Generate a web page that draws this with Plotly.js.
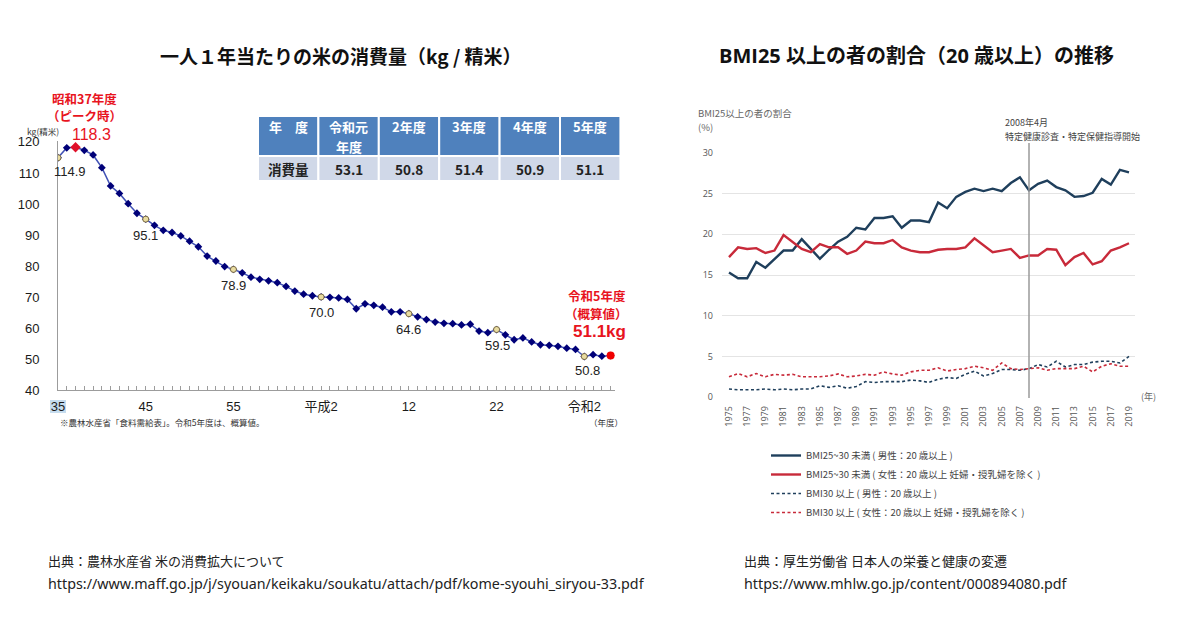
<!DOCTYPE html>
<html>
<head>
<meta charset="utf-8">
<script src="https://cdn.plot.ly/plotly-3.0.1.min.js"></script>
<style>html,body{margin:0;padding:0;background:#fff;}#chart{width:1200px;height:634px;}</style>
</head>
<body>
<div id="chart"></div>
<script>
// ---------- Left chart: rice consumption per person (kg) ----------
const riceYears = [1960,1961,1962,1963,1964,1965,1966,1967,1968,1969,
  1970,1971,1972,1973,1974,1975,1976,1977,1978,1979,
  1980,1981,1982,1983,1984,1985,1986,1987,1988,1989,
  1990,1991,1992,1993,1994,1995,1996,1997,1998,1999,
  2000,2001,2002,2003,2004,2005,2006,2007,2008,2009,
  2010,2011,2012,2013,2014,2015,2016,2017,2018,2019,
  2020,2021,2022,2023];
const riceValues = [114.9,118.1,118.3,117.3,115.8,111.7,105.8,103.4,100.1,97.0,
  95.1,93.1,91.5,90.8,89.7,88.0,86.2,83.2,81.6,79.8,
  78.9,77.8,76.4,75.7,75.2,74.6,73.4,71.9,70.9,70.4,
  70.0,69.9,69.7,69.2,66.2,67.8,67.3,66.7,65.2,65.2,
  64.6,63.6,62.7,61.9,61.5,61.4,61.0,61.2,59.0,58.5,
  59.5,57.8,56.2,56.8,55.5,54.6,54.4,54.1,53.5,53.1,
  50.8,51.4,50.9,51.1];
const labeledYears = [1960,1970,1980,1990,2000,2010,2020];
const peakYear = 1962;
const latestYear = 2023;
const riceTickVals = [1960,1970,1980,1990,2000,2010,2020];
const riceTickText = ['35','45','55','平成2','12','22','令和2'];

// table
const tableHeader = [['年　度'],['令和元','年度'],['2年度'],['3年度'],['4年度'],['5年度']];
const tableRowLabel = '消費量';
const tableValues = ['53.1','50.8','51.4','50.9','51.1'];

// ---------- Right chart: BMI25+ share (%) ----------
const bmiYears = [1975,1976,1977,1978,1979,1980,1981,1982,1983,1984,
  1985,1986,1987,1988,1989,1990,1991,1992,1993,1994,
  1995,1996,1997,1998,1999,2000,2001,2002,2003,2004,
  2005,2006,2007,2008,2009,2010,2011,2012,2013,2014,
  2015,2016,2017,2018,2019];
const men25to30 = [15.3,14.6,14.6,16.6,15.9,16.9,18.0,18.0,19.4,18.2,
  17.0,18.1,19.1,19.7,20.8,20.6,22.0,22.0,22.2,20.8,
  21.7,21.7,21.5,23.9,23.2,24.6,25.2,25.6,25.3,25.6,
  25.3,26.3,27.0,25.4,26.2,26.6,25.8,25.4,24.6,24.7,
  25.1,26.8,26.1,27.9,27.6];
const women25to30 = [17.2,18.4,18.2,18.3,17.7,18.0,19.9,19.1,18.2,17.8,
  18.8,18.4,18.4,17.6,18.0,19.1,18.9,18.9,19.3,18.4,
  18.0,17.8,17.8,18.1,18.2,18.2,18.4,19.5,18.7,17.8,
  18.0,18.2,17.1,17.4,17.4,18.2,18.1,16.2,17.2,17.7,
  16.3,16.7,18.0,18.4,18.9];
const men30plus = [1.0,0.9,0.9,0.9,1.0,0.9,1.0,0.9,1.0,1.0,
  1.4,1.2,1.4,1.1,1.3,1.9,1.8,1.9,1.9,1.9,
  2.1,2.0,1.8,2.2,2.4,2.3,2.8,3.2,2.6,2.9,
  3.4,3.4,3.3,3.5,4.0,3.7,4.4,3.7,4.0,4.0,
  4.3,4.4,4.4,4.2,5.0];
const women30plus = [2.5,2.9,2.5,2.9,2.5,2.8,2.7,2.8,2.5,2.5,
  2.5,2.6,2.85,2.5,2.6,2.8,2.7,3.1,2.85,2.7,
  3.1,3.3,3.3,3.6,3.2,3.4,3.5,3.8,3.6,3.3,
  4.2,3.5,3.4,3.5,3.6,3.3,3.5,3.5,3.5,3.8,
  3.1,3.8,4.1,3.8,3.8];
const bmiSeriesNames = [
  'BMI25~30 未満 ( 男性：20 歳以上 )',
  'BMI25~30 未満 ( 女性：20 歳以上 妊婦・授乳婦を除く )',
  'BMI30 以上 ( 男性：20 歳以上 )',
  'BMI30 以上 ( 女性：20 歳以上 妊婦・授乳婦を除く )'
];
const markerYear = 2008;

// ---------- build ----------
const W = 1200, H = 634;
const px = v => v / W;
const py = v => 1 - v / H;
const JP = '"Noto Sans CJK JP", "Noto Sans", sans-serif';
const LAT = '"Liberation Sans", Arial, "Noto Sans CJK JP", sans-serif';

const valOf = y => riceValues[riceYears.indexOf(y)];

const traces = [];
traces.push({
  type: 'scatter', mode: 'lines+markers', x: riceYears, y: riceValues,
  xaxis: 'x', yaxis: 'y', showlegend: false, hoverinfo: 'x+y',
  line: {color: '#4051b5', width: 1.5},
  marker: {symbol: 'diamond', size: 6, color: '#000078'}
});
traces.push({
  type: 'scatter', mode: 'markers', x: labeledYears, y: labeledYears.map(valOf),
  xaxis: 'x', yaxis: 'y', showlegend: false,
  marker: {symbol: 'circle', size: 6, color: '#e9dca0', line: {color: '#7d6e45', width: 1}}
});
traces.push({
  type: 'scatter', mode: 'markers', x: [peakYear], y: [valOf(peakYear)],
  xaxis: 'x', yaxis: 'y', showlegend: false,
  marker: {symbol: 'diamond', size: 8, color: '#e0102a'}
});
traces.push({
  type: 'scatter', mode: 'markers', x: [latestYear], y: [valOf(latestYear)],
  xaxis: 'x', yaxis: 'y', showlegend: false,
  marker: {symbol: 'circle', size: 8, color: '#f00000'}
});

// right chart
const bmiColors = ['#1f3f5c', '#c82a3a', '#1f3f5c', '#c82a3a'];
const bmiData = [men25to30, women25to30, men30plus, women30plus];
bmiData.forEach((arr, i) => {
  traces.push({
    type: 'scatter', mode: 'lines', x: bmiYears, y: arr,
    xaxis: 'x2', yaxis: 'y2', name: bmiSeriesNames[i],
    line: {color: bmiColors[i], width: i < 2 ? 2.4 : 1.6, dash: i < 2 ? 'solid' : '3px,2.5px'}
  });
});

const annotations = [];
const shapes = [];
const note = (x, y, text, font, xanchor, extra) => annotations.push(Object.assign({
  xref: 'paper', yref: 'paper', x: px(x), y: py(y), text: text, showarrow: false,
  font: font, xanchor: xanchor || 'center', yanchor: 'middle'}, extra || {}));

// titles
note(341, 55, '<b>一人１年当たりの米の消費量（kg / 精米）</b>', {family: JP, size: 19, color: '#111'});
note(916, 55, '<b>BMI25 以上の者の割合（20 歳以上）の推移</b>', {family: '"Open Sans", "Noto Sans CJK JP", sans-serif', size: 20, color: '#111'});

// ----- table drawn with shapes + text -----
const tblLeft = 258, tblColW = 60.4, tblTop = 116, tblHeadH = 40, tblRowH = 25;
tableHeader.forEach((lines, i) => {
  const x0 = tblLeft + i * tblColW, x1 = x0 + tblColW, xc = (x0 + x1) / 2;
  shapes.push({type: 'rect', xref: 'paper', yref: 'paper', x0: px(x0), x1: px(x1), y0: py(tblTop + tblHeadH), y1: py(tblTop),
    fillcolor: '#4f81bd', line: {color: '#ffffff', width: 2}, layer: 'below'});
  shapes.push({type: 'rect', xref: 'paper', yref: 'paper', x0: px(x0), x1: px(x1), y0: py(tblTop + tblHeadH + tblRowH), y1: py(tblTop + tblHeadH),
    fillcolor: '#d0d8e8', line: {color: '#ffffff', width: 2}, layer: 'below'});
  lines.forEach((t, k) => note(xc, tblTop + 11 + k * 19, '<b>' + t + '</b>', {family: JP, size: 13, color: '#ffffff'}));
  const cellText = i === 0 ? tableRowLabel : tableValues[i - 1];
  note(xc, tblTop + tblHeadH + tblRowH / 2 + 0.5, '<b>' + cellText + '</b>', {family: JP, size: 13.5, color: '#222222'});
});

// data labels
const labelOffsets = {1960: [12, -14], 1970: [0, -16], 1980: [0, -16], 1990: [0, -16], 2000: [0, -16], 2010: [1, -16], 2020: [3, -14]};
labeledYears.forEach(y => {
  annotations.push({xref: 'x', yref: 'y', x: y, y: valOf(y), text: valOf(y).toFixed(1), showarrow: false,
    xshift: labelOffsets[y][0], yshift: labelOffsets[y][1],
    font: {family: LAT, size: 13, color: '#222'}, xanchor: 'center', yanchor: 'middle'});
});
// peak label
const red = '#e8141e';
note(84, 98, '<b>昭和37年度</b>', {family: JP, size: 12.5, color: red});
note(84, 116, '<b>（ピーク時）</b>', {family: JP, size: 12.5, color: red});
note(91, 134, valOf(peakYear).toFixed(1), {family: LAT, size: 16, color: red});
// latest label
note(628, 295, '<b>令和5年度</b>', {family: JP, size: 12.5, color: red}, 'right');
note(630, 313, '<b>（概算値）</b>', {family: JP, size: 12.5, color: red}, 'right');
note(628, 331, '<b>' + valOf(latestYear).toFixed(1) + 'kg</b>', {family: LAT, size: 17, color: red}, 'right');
// axis notes left
note(25, 131, 'kg(精米)', {family: JP, size: 8.5, color: '#333'}, 'left');
note(58, 422, '※農林水産省「食料需給表」。令和5年度は、概算値。', {family: JP, size: 8.5, color: '#333'}, 'left');
note(625, 422, '（年度）', {family: JP, size: 8.5, color: '#333'}, 'right');
// right chart notes
note(696, 113, 'BMI25以上の者の割合', {family: JP, size: 9.5, color: '#666'}, 'left');
note(696, 127, '(%)', {family: JP, size: 9.5, color: '#666'}, 'left');
note(1003, 122, '2008年4月', {family: JP, size: 9, color: '#444'}, 'left');
note(1003, 136, '特定健康診査・特定保健指導開始', {family: JP, size: 9, color: '#444'}, 'left');
note(1139, 396, '(年)', {family: JP, size: 9, color: '#666'}, 'left');
// sources
const srcFont = {family: JP, size: 13, color: '#222'};
const urlFont = {family: '"Noto Sans", "Open Sans", sans-serif', size: 14.3, color: '#222'};
note(46, 560, '出典：農林水産省 米の消費拡大について', srcFont, 'left');
note(46, 583, 'https://www.maff.go.jp/j/syouan/keikaku/soukatu/attach/pdf/kome-syouhi_siryou-33.pdf', urlFont, 'left');
note(742, 560, '出典：厚生労働省 日本人の栄養と健康の変遷', srcFont, 'left');
note(742, 583, 'https://www.mhlw.go.jp/content/000894080.pdf', urlFont, 'left');

shapes.push(
  // highlight behind "35"
  {type: 'rect', xref: 'paper', yref: 'paper', x0: px(50), x1: px(66), y0: py(413), y1: py(400), fillcolor: '#c6dcee', line: {width: 0}, layer: 'below'},
  // 2008 marker line
  {type: 'line', xref: 'x2', yref: 'paper', x0: markerYear, x1: markerYear, y0: py(398), y1: py(143), line: {color: '#9a9a9a', width: 1.5}}
);

const layout = {
  width: W, height: H,
  margin: {l: 0, r: 0, t: 0, b: 0},
  paper_bgcolor: '#ffffff', plot_bgcolor: 'rgba(0,0,0,0)',
  showlegend: true,
  legend: {x: px(766), y: py(441), xanchor: 'left', yanchor: 'top', bgcolor: 'rgba(0,0,0,0)',
    font: {family: JP, size: 9.5, color: '#444'}, tracegroupgap: 0, itemwidth: 30},
  xaxis: {domain: [px(58), px(615)], range: [1960, 2023.5], anchor: 'y',
    showline: true, linecolor: '#9c9c9c', linewidth: 1, zeroline: false, showgrid: false,
    tickmode: 'array', tickvals: riceTickVals, ticktext: riceTickText,
    ticks: 'inside', ticklen: 4, tickcolor: '#9c9c9c', ticklabelstandoff: 4,
    tickfont: {family: LAT + ', ' + JP, size: 13, color: '#1a1a1a'},
    minor: {tickmode: 'linear', tick0: 1960, dtick: 1, ticks: 'inside', ticklen: 4, tickcolor: '#9c9c9c', showgrid: false}
  },
  yaxis: {domain: [py(390), py(141)], range: [40, 120.3], anchor: 'x',
    showline: true, linecolor: '#9c9c9c', linewidth: 1, zeroline: false, showgrid: false,
    tickmode: 'array', tickvals: [40,50,60,70,80,90,100,110,120], ticks: '',
    ticklabelstandoff: 15,
    tickfont: {family: LAT, size: 13, color: '#1a1a1a'}
  },
  xaxis2: {domain: [px(722), px(1135)], range: [1974.23, 2019.66], anchor: 'y2',
    showline: false, zeroline: false, showgrid: false,
    tickmode: 'array', tickvals: bmiYears.filter((y, i) => i % 2 === 0), tickangle: -90,
    ticks: '', ticklabelstandoff: 6,
    tickfont: {family: '"Open Sans", "Noto Sans", sans-serif', size: 9, color: '#555'}
  },
  yaxis2: {domain: [py(397.3), py(152.7)], range: [-0.02, 30.02], anchor: 'x2',
    showline: false, zeroline: false, showgrid: true, gridcolor: '#e4e4e4', gridwidth: 1,
    tickmode: 'array', tickvals: [0,5,10,15,20,25,30], ticks: '',
    ticklabelstandoff: 8,
    tickfont: {family: '"Open Sans", "Noto Sans", sans-serif', size: 9, color: '#555'}
  },
  annotations: annotations,
  shapes: shapes
};

Plotly.newPlot('chart', traces, layout, {displayModeBar: false, staticPlot: true});
</script>
</body>
</html>
